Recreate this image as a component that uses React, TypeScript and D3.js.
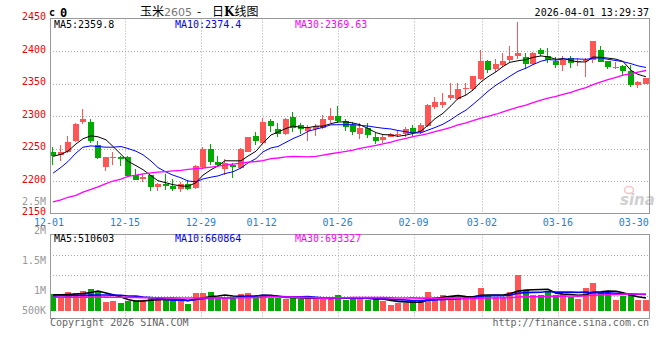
import React from "react";
import * as d3 from "d3";

// ---- data (corn 2605 daily K, 12-01 .. 04-01) ----
const opens = [
  2245, 2240, 2244, 2262, 2291, 2291, 2256, 2222, 2235, 2237,
  2237, 2209, 2203, 2209, 2191, 2195, 2193, 2188, 2196, 2190,
  2221, 2250, 2230, 2219, 2225, 2220, 2245, 2269, 2258, 2292,
  2280, 2272, 2299, 2286, 2277, 2280, 2281, 2294, 2300, 2292,
  2286, 2272, 2282, 2268, 2263, 2268, 2271, 2272, 2281, 2275,
  2285, 2314, 2317, 2327, 2326, 2341, 2342, 2357, 2385, 2372,
  2378, 2386, 2392, 2391, 2380, 2401, 2392, 2385, 2378, 2389,
  2383, 2384, 2386, 2401, 2384, 2375, 2377, 2370, 2348, 2350,
];
const highs = [
  2252, 2255, 2270, 2289, 2311, 2295, 2261, 2237, 2244, 2238,
  2238, 2218, 2211, 2210, 2197, 2211, 2203, 2198, 2201, 2225,
  2252, 2257, 2238, 2234, 2228, 2251, 2268, 2275, 2297, 2296,
  2289, 2297, 2306, 2289, 2286, 2287, 2301, 2312, 2316, 2295,
  2291, 2289, 2290, 2274, 2271, 2274, 2279, 2283, 2286, 2290,
  2319, 2330, 2335, 2351, 2351, 2351, 2362, 2401, 2386, 2388,
  2397, 2407, 2444, 2397, 2398, 2405, 2405, 2391, 2392, 2393,
  2389, 2389, 2416, 2407, 2385, 2383, 2379, 2378, 2354, 2359,
];
const lows = [
  2225, 2231, 2243, 2260, 2288, 2259, 2234, 2215, 2225, 2223,
  2206, 2201, 2199, 2184, 2184, 2186, 2184, 2183, 2186, 2188,
  2219, 2224, 2222, 2210, 2204, 2218, 2244, 2256, 2257, 2276,
  2268, 2271, 2276, 2273, 2262, 2270, 2280, 2289, 2290, 2277,
  2271, 2265, 2266, 2257, 2259, 2267, 2267, 2268, 2269, 2273,
  2283, 2311, 2313, 2324, 2324, 2332, 2339, 2355, 2366, 2368,
  2376, 2383, 2388, 2373, 2379, 2392, 2381, 2374, 2369, 2374,
  2377, 2360, 2382, 2383, 2372, 2373, 2363, 2345, 2343, 2349,
];
const closes = [
  2238, 2244, 2260, 2288, 2295, 2261, 2236, 2237, 2237, 2234,
  2208, 2202, 2206, 2191, 2195, 2192, 2188, 2196, 2188, 2223,
  2250, 2230, 2225, 2228, 2222, 2250, 2267, 2262, 2291, 2284,
  2272, 2295, 2281, 2280, 2282, 2284, 2295, 2300, 2293, 2283,
  2275, 2282, 2271, 2261, 2268, 2272, 2272, 2280, 2274, 2286,
  2317, 2322, 2322, 2332, 2342, 2343, 2361, 2385, 2371, 2380,
  2384, 2393, 2397, 2380, 2397, 2395, 2386, 2378, 2386, 2382,
  2384, 2386, 2416, 2383, 2376, 2376, 2369, 2347, 2352, 2358,
];
const volumes = [
  676000, 500000, 771000, 730000, 798000, 893000, 798000, 365000, 406000, 325000,
  392000, 433000, 433000, 528000, 433000, 474000, 474000, 379000, 284000, 730000,
  730000, 771000, 474000, 474000, 541000, 690000, 730000, 555000, 609000, 528000,
  528000, 474000, 568000, 474000, 555000, 474000, 474000, 500000, 636000, 433000,
  541000, 500000, 433000, 500000, 406000, 230000, 325000, 325000, 433000, 392000,
  758000, 541000, 622000, 595000, 541000, 568000, 500000, 920000, 636000, 568000,
  568000, 758000, 1448000, 839000, 636000, 636000, 812000, 636000, 676000, 541000,
  474000, 920000, 1137000, 758000, 704000, 433000, 595000, 676000, 433000, 433000,
];

const ma5Lead = [2238, 2241, 2246, 2257];
const ma10Lead = [2212, 2221, 2230, 2243, 2252, 2254, 2253, 2252, 2252];
const ma30Lead = [
  2168, 2171, 2175, 2178, 2183, 2187, 2191, 2196, 2200, 2203,
  2207, 2209, 2211, 2212.5, 2213.5, 2214.5, 2215.5, 2216.5, 2218, 2219,
  2220, 2221.5, 2223, 2224.5, 2226, 2227.5, 2229, 2230, 2231.5,
];
const volMa5Lead = [650000, 645000, 660000, 680000];
const volMa10Lead = [600000, 605000, 610000, 615000, 625000, 635000, 640000, 640000, 635000];
const volMa30Lead = [
  545000, 545000, 548000, 548000, 550000, 552000, 552000, 550000, 548000, 545000,
  540000, 535000, 530000, 528000, 525000, 522000, 520000, 518000, 516000, 515000,
  516000, 518000, 520000, 522000, 525000, 528000, 532000, 536000, 540000,
];

const tickIndex = [0, 10, 20, 28, 38, 48, 57, 67, 77];
const tickLabels = ["12-01", "12-15", "12-29", "01-12", "01-26", "02-09", "03-02", "03-16", "03-30"];
const priceTicks = [2150, 2200, 2250, 2300, 2350, 2400, 2450];
const volTicks = [2500000, 2000000, 1500000, 1000000, 500000];
const volTickLabels = ["2.5M", "2M", "1.5M", "1M", "500K"];
const mainLegend = ["MA5:2359.8", "MA10:2374.4", "MA30:2369.63"];
const volLegend = ["MA5:510603", "MA10:660864", "MA30:693327"];
const maColors = ["#000000", "#0000ff", "#ff00ff"];

function movingAverage(values: number[], n: number, lead: number[]) {
  return values.map((_, i) => (i >= n - 1 ? (d3.mean(values.slice(i - n + 1, i + 1)) as number) : lead[i]));
}

const MONO = "'DejaVu Sans Mono', 'Liberation Mono', monospace";
const RED = "#ff5555";
const GREEN = "#00aa00";

export default function App() {
  const n = closes.length;
  const xBand = d3.scaleLinear().domain([0, n]).range([50, 650]);
  const xGrid = d3.scaleLinear().domain([0, 79]).range([49, 649]);
  const yMain = d3.scaleLinear().domain([2150, 2450]).range([213.5, 18.5]);
  const yVol = d3.scaleLinear().domain([0, 3090000]).range([310.7, 234.7]);
  const yVolLabel = d3.scaleLinear().domain([663000, 2500000]).range([310.5, 201]).clamp(true);

  const left = (i: number) => Math.round(xBand(i));
  const cx = (i: number) => left(i) + 3;
  const idx = d3.range(n);

  const ma = [
    movingAverage(closes, 5, ma5Lead),
    movingAverage(closes, 10, ma10Lead),
    movingAverage(closes, 30, ma30Lead),
  ];
  const vma = [
    movingAverage(volumes, 5, volMa5Lead),
    movingAverage(volumes, 10, volMa10Lead),
    movingAverage(volumes, 30, volMa30Lead),
  ];

  const mainLine = (arr: number[]) =>
    d3.line<number>().x((i) => cx(i)).y((i) => yMain(arr[i]))(idx) || "";
  const volLine = (arr: number[]) =>
    d3.line<number>().x((i) => cx(i)).y((i) => yVol(arr[i]))(idx) || "";

  const mainTop = 18.5, mainBottom = 213.5, volTop = 234.5, volBottom = 318.5;
  const volGrid = d3.range(1, 4).map((k) => volTop + (k * (316 - volTop)) / 4);
  const vTicks = tickIndex.slice(1, -1);

  return (
    <svg width={660} height={360} style={{ position: "absolute", left: 0, top: 0, background: "#fff" }}>
      <rect x={0} y={0} width={660} height={360} fill="#fff" />

      {/* header */}
      <text x={49} y={16} fontFamily={MONO} fontSize={10} fontWeight="bold" fill="#000">c</text>
      <text x={60} y={16.5} fontFamily={MONO} fontSize={12} fontWeight="bold" fill="#000">0</text>
      <text x={140} y={15.5} fontFamily="'Noto Sans CJK SC', sans-serif" fontSize={12} fill="#000">
        玉米<tspan fill="#777" fontFamily="'DejaVu Sans', sans-serif" fontSize={11}>2605</tspan>
      </text>
      <text x={199} y={15.5} textAnchor="middle" fontFamily="'Noto Sans CJK SC', sans-serif" fontSize={12} fill="#000">-</text>
      <text x={212} y={15.5} fontFamily="'Noto Sans CJK SC', sans-serif" fontSize={12} fill="#000">
        日<tspan fontWeight="bold" fontFamily="'DejaVu Serif', serif">K</tspan>线图
      </text>
      <text x={649} y={15.5} textAnchor="end" fontFamily={MONO} fontSize={10} fill="#000">2026-04-01 13:29:37</text>

      {/* main grid */}
      {priceTicks.slice(1, -1).map((p) => (
        <line key={"hg" + p} x1={50} x2={650} y1={Math.round(yMain(p)) + 0.5} y2={Math.round(yMain(p)) + 0.5}
          stroke="#aaa" strokeDasharray="1,2" />
      ))}
      {vTicks.map((t) => (
        <line key={"vg" + t} x1={Math.round(xGrid(t)) + 0.5} x2={Math.round(xGrid(t)) + 0.5} y1={mainTop} y2={mainBottom}
          stroke="#aaa" strokeDasharray="1,2" />
      ))}
      {/* volume grid */}
      {volGrid.map((g, k) => (
        <line key={"vhg" + k} x1={50} x2={650} y1={Math.round(g) + 0.5} y2={Math.round(g) + 0.5}
          stroke="#aaa" strokeDasharray="1,2" />
      ))}
      {vTicks.map((t) => (
        <line key={"vvg" + t} x1={Math.round(xGrid(t)) + 0.5} x2={Math.round(xGrid(t)) + 0.5} y1={volTop} y2={volBottom}
          stroke="#aaa" strokeDasharray="1,2" />
      ))}

      {/* sina watermark */}
      <g opacity={0.55}>
        <ellipse cx={629} cy={190} rx={4.5} ry={3.5} fill="none" stroke="#e99" strokeWidth={1.5} />
        <text x={620} y={205} fontFamily="'DejaVu Sans', sans-serif" fontStyle="italic" fontWeight="bold" fontSize={15} fill="#aaa">sina</text>
      </g>

      {/* candles */}
      {idx.map((i) => {
        const o = opens[i], c = closes[i], h = highs[i], l = lows[i];
        const col = c >= o ? RED : GREEN;
        const yTop = yMain(Math.max(o, c));
        const yBot = yMain(Math.min(o, c));
        const bh = Math.max(1, yBot - yTop);
        return (
          <g key={"c" + i} shapeRendering="crispEdges">
            <line x1={cx(i) - 0.5} x2={cx(i) - 0.5} y1={yMain(h)} y2={yMain(l)} stroke={col} />
            <rect x={left(i)} y={yTop} width={6} height={bh} fill={col} />
          </g>
        );
      })}

      {/* MA lines main */}
      {ma.map((arr, k) => (
        <path key={"ma" + k} d={mainLine(arr)} fill="none" stroke={maColors[k]} strokeWidth={k === 2 ? 1.3 : 1} />
      ))}

      {/* volume bars */}
      {idx.map((i) => (
        <rect key={"v" + i} x={left(i)} y={yVol(volumes[i])} width={6} height={yVol(0) - yVol(volumes[i])}
          fill={closes[i] >= opens[i] ? RED : GREEN} shapeRendering="crispEdges" />
      ))}
      {vma.map((arr, k) => (
        <path key={"vma" + k} d={volLine(arr)} fill="none" stroke={maColors[k]} strokeWidth={1.6} />
      ))}

      {/* borders */}
      <rect x={50.5} y={mainTop} width={599} height={mainBottom - mainTop} fill="none" stroke="#999" />
      <rect x={50.5} y={volTop} width={599} height={volBottom - volTop} fill="none" stroke="#999" />

      {/* legends */}
      {mainLegend.map((t, k) => (
        <text key={"ml" + k} x={[54, 175, 295][k]} y={27.5} fontFamily={MONO} fontSize={10} fill={maColors[k]}>{t}</text>
      ))}
      {volLegend.map((t, k) => (
        <text key={"vl" + k} x={[54, 175, 295][k]} y={242} fontFamily={MONO} fontSize={10} fill={maColors[k]}>{t}</text>
      ))}

      {/* y labels */}
      {priceTicks.map((p) => (
        <text key={"pl" + p} x={46} y={yMain(p) + 1.5} textAnchor="end" fontFamily={MONO} fontSize={10} fill="#ee0000">{p}</text>
      ))}
      {volTicks.map((v, k) => (
        <text key={"vtl" + k} x={46} y={yVolLabel(v) + 3.5} textAnchor="end" fontFamily={MONO} fontSize={10} fill="#999">{volTickLabels[k]}</text>
      ))}

      {/* x labels */}
      {tickIndex.map((t, k) => (
        <text key={"xl" + k} x={xGrid(t)} y={226} textAnchor="middle" fontFamily={MONO} fontSize={10} fill="#2a80d0">{tickLabels[k]}</text>
      ))}

      {/* footer */}
      <text x={50} y={326} fontFamily={MONO} fontSize={10} fill="#666">Copyright 2026 SINA.COM</text>
      <text x={649} y={326} textAnchor="end" fontFamily={MONO} fontSize={10} fill="#666">http://finance.sina.com.cn</text>
    </svg>
  );
}
